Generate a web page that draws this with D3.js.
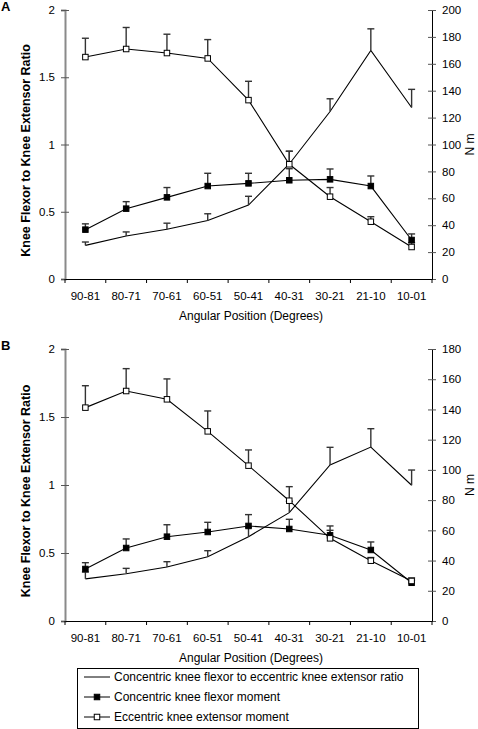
<!DOCTYPE html>
<html><head><meta charset="utf-8">
<script src="https://cdn.jsdelivr.net/npm/d3@7"></script>
<style>body{margin:0;background:#fff}svg{display:block;font-family:"Liberation Sans",Arial,sans-serif}</style>
</head><body><svg id="c" width="478" height="729"></svg>
<script>
const categories = ["90-81","80-71","70-61","60-51","50-41","40-31","30-21","21-10","10-01"];
const ratioTicks = [0,0.5,1,1.5,2];
// Panel A
const ratioA = [0.25,0.32,0.37,0.435,0.55,0.855,1.245,1.70,1.275];
const ratioErrA = [0.275,0.35,0.415,0.485,0.615,0.95,1.34,1.86,1.41];
const concA = [36.7,52.3,60.7,69.1,71.1,73.4,74.1,69.1,29];
const concErrA = [41,57.5,68,78.6,78.6,82,81.8,76.6,33.5];
const eccA = [165,171,168,164,133,85.3,61.2,42.6,23.8];
const eccErrA = [179,187,182,178,147,95,68,46.3,27];
const nmTicksA = [0,20,40,60,80,100,120,140,160,180,200];
// Panel B
const ratioB = [0.31,0.348,0.397,0.473,0.62,0.797,1.147,1.279,0.998];
const ratioErrB = [0.36,0.387,0.436,0.517,0.69,0.88,1.277,1.414,1.11];
const concB = [34.4,48.3,55.8,58.9,62.9,60.9,56.7,47,25.3];
const concErrB = [38.6,54.3,63.7,65.3,70.4,67.3,62.9,52.3,27];
const eccB = [141.2,152.2,146.7,125.5,102.8,79.6,54.7,39.9,26.5];
const eccErrB = [155.7,167,160.2,139,113.2,88.9,60,42,28.5];
const nmTicksB = [0,20,40,60,80,100,120,140,160,180];
const legendLabels = ["Concentric knee flexor to eccentric knee extensor ratio","Concentric knee flexor moment","Eccentric knee extensor moment"];

const svg = d3.select("#c");
const FS = 11.5;
const FT = 12;

function panel(opt){
  const g = svg.append("g");
  const x = d3.scaleBand().domain(categories).range([65,432]);
  const cx = c => x(c) + x.bandwidth()/2;
  const yL = d3.scaleLinear().domain([0,2]).range([opt.y0,opt.y1]);
  const yR = d3.scaleLinear().domain([0,opt.nmMax]).range([opt.y0,opt.y1]);

  const la = g.append("g").attr("transform","translate(65,0)")
    .call(d3.axisLeft(yL).tickValues(ratioTicks).tickFormat(d3.format("")).tickSize(4).tickPadding(6));
  la.select(".domain").attr("stroke","#8a8a8a").attr("stroke-width",2);
  la.selectAll(".tick line").attr("x2",4).attr("x1",-4).attr("stroke","#555");
  la.selectAll("text").attr("font-size",FS).attr("font-family","Liberation Sans, Arial, sans-serif").attr("fill","#000");
  const ra = g.append("g").attr("transform","translate(432,0)")
    .call(d3.axisRight(yR).tickValues(opt.nmTicks).tickSize(4).tickPadding(6));
  ra.select(".domain").attr("stroke","#000");
  ra.selectAll(".tick line").attr("x1",-4).attr("x2",4).attr("stroke","#555");
  ra.selectAll("text").attr("font-size",FS).attr("font-family","Liberation Sans, Arial, sans-serif").attr("fill","#000");
  const xa = g.append("g").attr("transform",`translate(0,${opt.y0})`)
    .call(d3.axisBottom(x).tickSize(0).tickPadding(13));
  xa.select(".domain").attr("stroke","#000");
  xa.selectAll("text").attr("font-size",FS).attr("font-family","Liberation Sans, Arial, sans-serif").attr("fill","#000");
  g.selectAll(".xt").data(categories.concat([null])).enter().append("line")
    .attr("x1",(d,i)=> i<categories.length ? x(d) : x.range()[1])
    .attr("x2",(d,i)=> i<categories.length ? x(d) : x.range()[1])
    .attr("y1",opt.y0).attr("y2",opt.y0+4).attr("stroke","#000");

  g.append("text").attr("transform",`translate(30,${(opt.y0+opt.y1)/2+6}) rotate(-90)`)
    .attr("text-anchor","middle").attr("font-weight","bold").attr("font-size",12.5)
    .text("Knee Flexor to Knee Extensor Ratio");
  g.append("text").attr("transform",`translate(474,${(opt.y0+opt.y1)/2}) rotate(-90)`)
    .attr("text-anchor","middle").attr("font-size",FT).text("N m");
  g.append("text").attr("x",251).attr("y",opt.y0+41).attr("text-anchor","middle")
    .attr("font-size",FT).text("Angular Position (Degrees)");
  g.append("text").attr("x",1).attr("y",opt.y1+1).attr("font-weight","bold").attr("font-size",13).text(opt.label);

  const line = (ys, y) => d3.line().x((d,i)=>cx(categories[i])).y(d=>y(d))(ys);
  const series = [
    {v:opt.ratio, e:opt.ratioErr, y:yL, m:null},
    {v:opt.conc, e:opt.concErr, y:yR, m:"#000"},
    {v:opt.ecc, e:opt.eccErr, y:yR, m:"#fff"}
  ];
  series.forEach(s=>{
    g.append("path").attr("d",line(s.v,s.y)).attr("fill","none").attr("stroke","#000").attr("stroke-width",1.1);
  });
  series.forEach(s=>{
    const eg = g.append("g").attr("stroke","#333").attr("stroke-width",1.4);
    s.v.forEach((v,i)=>{
      const X = cx(categories[i]);
      eg.append("line").attr("x1",X).attr("x2",X).attr("y1",s.y(v)).attr("y2",s.y(s.e[i]));
      eg.append("line").attr("x1",X-3.5).attr("x2",X+3.5).attr("y1",s.y(s.e[i])).attr("y2",s.y(s.e[i]));
    });
  });
  series.filter(s=>s.m).forEach(s=>{
    g.selectAll(null).data(s.v).enter().append("rect")
      .attr("x",(d,i)=>cx(categories[i])-2.75).attr("y",d=>s.y(d)-2.75)
      .attr("width",5.5).attr("height",5.5).attr("fill",s.m).attr("stroke","#000").attr("stroke-width",1);
  });
}

panel({label:"A", y0:279, y1:10, nmMax:200, nmTicks:nmTicksA,
  ratio:ratioA, ratioErr:ratioErrA, conc:concA, concErr:concErrA, ecc:eccA, eccErr:eccErrA});
panel({label:"B", y0:621, y1:349, nmMax:180, nmTicks:nmTicksB,
  ratio:ratioB, ratioErr:ratioErrB, conc:concB, concErr:concErrB, ecc:eccB, eccErr:eccErrB});

const lg = svg.append("g");
lg.append("rect").attr("x",77.5).attr("y",668.5).attr("width",341).attr("height",60).attr("fill","none").attr("stroke","#000");
legendLabels.forEach((t,i)=>{
  const yy = 677 + i*20;
  lg.append("line").attr("x1",84).attr("x2",110).attr("y1",yy).attr("y2",yy).attr("stroke","#000");
  if(i>0) lg.append("rect").attr("x",94.25).attr("y",yy-2.75).attr("width",5.5).attr("height",5.5)
    .attr("fill", i===1 ? "#000" : "#fff").attr("stroke","#000");
  lg.append("text").attr("x",114).attr("y",yy+4).attr("font-size",FT).text(t);
});
</script></body></html>
